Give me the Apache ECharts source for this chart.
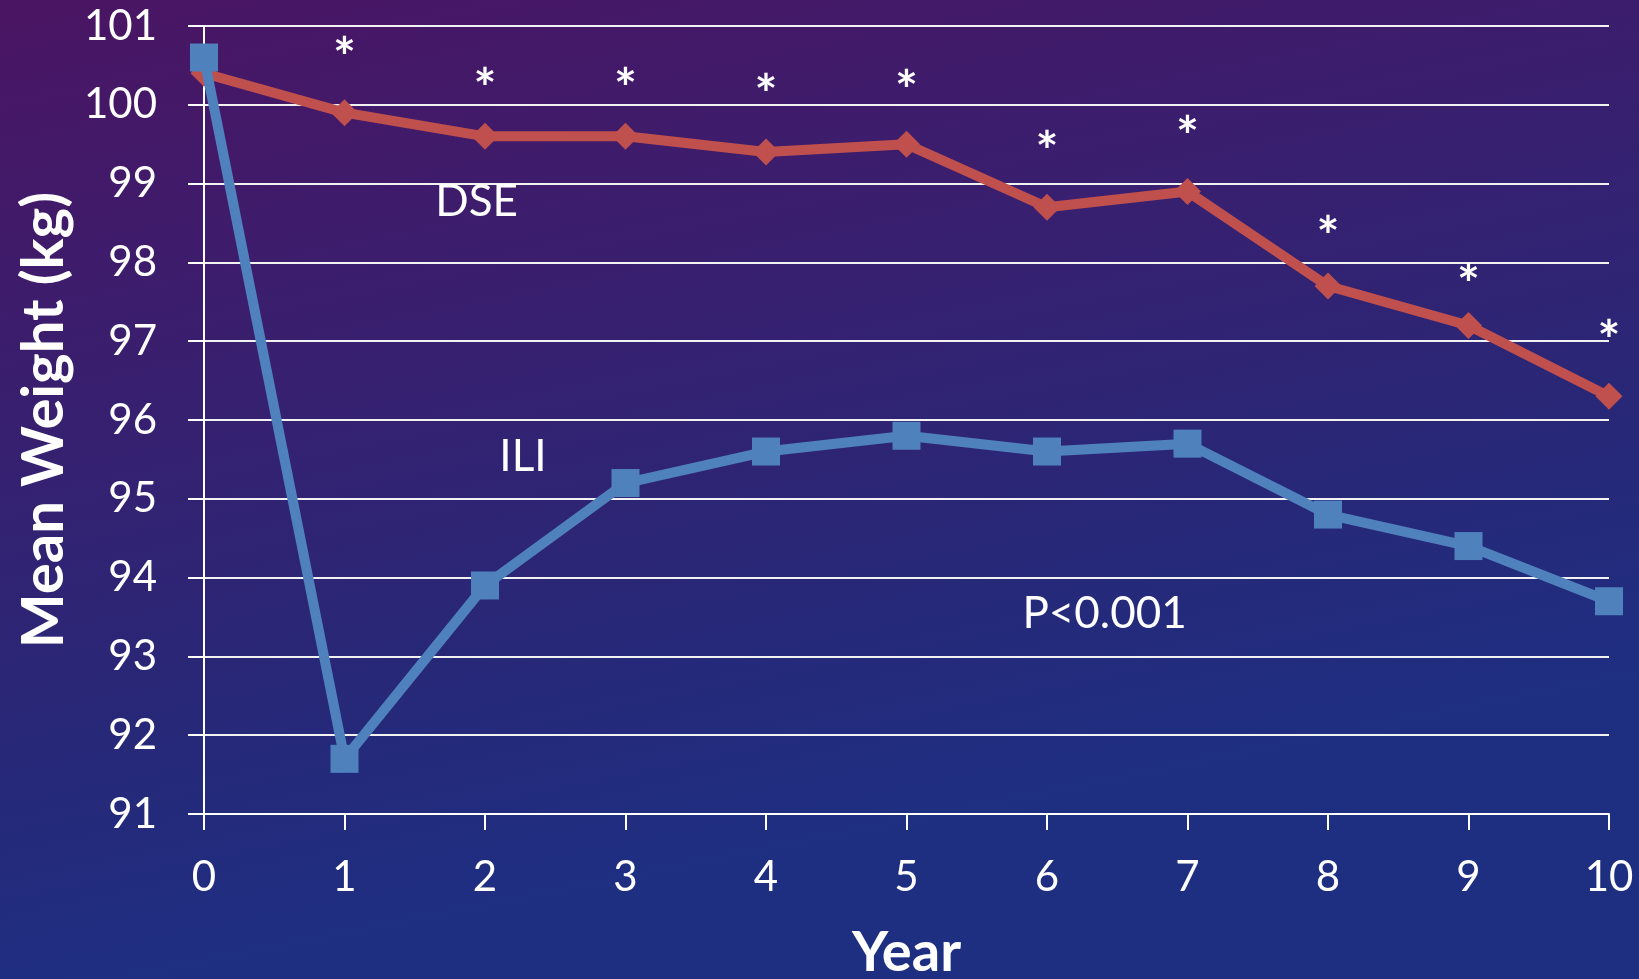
<!DOCTYPE html>
<html>
<head>
<meta charset="utf-8">
<script src="https://cdn.jsdelivr.net/npm/echarts@6/dist/echarts.min.js"></script>
<style>
html,body{margin:0;padding:0;width:1639px;height:979px;overflow:hidden;}
#chart{width:1639px;height:979px;}
</style>
</head>
<body>
<div id="chart"></div>
<script>
// ---- data ----
const years = [0, 1, 2, 3, 4, 5, 6, 7, 8, 9, 10];
const dseWeight = [100.4, 99.9, 99.6, 99.6, 99.4, 99.5, 98.7, 98.9, 97.7, 97.2, 96.3];
const iliWeight = [100.6, 91.7, 93.9, 95.2, 95.6, 95.8, 95.6, 95.7, 94.8, 94.4, 93.7];
const starYears = [1, 2, 3, 4, 5, 6, 7, 8, 9, 10];
const starLevel = [100.74, 100.34, 100.34, 100.27, 100.32, 99.55, 99.74, 98.47, 97.86, 97.15];
const noteText = ['DSE', 'ILI', 'P<0.001'];
const noteX = [1.94, 2.27, 6.41];
const noteY = [98.77, 95.53, 93.54];
const yTicks = [91, 92, 93, 94, 95, 96, 97, 98, 99, 100, 101];

const FONT = 'Lato, "Open Sans", sans-serif';

const chart = echarts.init(document.getElementById('chart'));
chart.setOption({
  backgroundColor: {
    type: 'linear', x: 0, y: 0, x2: 0.12, y2: 1,
    colorStops: [
      {offset: 0, color: '#4a1563'},
      {offset: 0.4, color: '#391f6f'},
      {offset: 0.75, color: '#272878'},
      {offset: 1, color: '#1e2f82'}
    ]
  },
  animation: false,
  grid: {left: 204, right: 30, top: 26, bottom: 165, containLabel: false, outerBoundsMode: 'none'},
  xAxis: {
    type: 'value', min: 0, max: 10, interval: 1,
    name: 'Year', nameLocation: 'middle', nameGap: 111,
    nameTextStyle: {color: '#ffffff', fontSize: 56, fontWeight: 'bold', fontFamily: FONT},
    axisLine: {show: true, onZero: false, lineStyle: {color: '#ffffff', width: 2}},
    axisTick: {show: true, inside: false, length: 16, lineStyle: {color: '#ffffff', width: 2}},
    axisLabel: {color: '#ffffff', fontSize: 42, fontFamily: FONT, margin: 42},
    splitLine: {show: false}
  },
  yAxis: {
    type: 'value', min: 91, max: 101, interval: 1,
    name: 'Mean Weight (kg)', nameLocation: 'middle', nameGap: 130, nameRotate: 90,
    nameTextStyle: {color: '#ffffff', fontSize: 58, fontWeight: 'bold', fontFamily: FONT},
    axisLine: {show: true, lineStyle: {color: '#ffffff', width: 2}},
    axisTick: {show: true, inside: false, length: 16, lineStyle: {color: '#ffffff', width: 2}},
    axisLabel: {color: '#ffffff', fontSize: 42, fontFamily: FONT, margin: 47,
      formatter: v => yTicks.includes(v) ? String(v) : ''},
    splitLine: {show: true, lineStyle: {color: '#f2f2f2', width: 2}}
  },
  series: [
    {
      name: 'DSE', type: 'line',
      data: years.map((x, i) => [x, dseWeight[i]]),
      lineStyle: {color: '#c0504d', width: 10},
      itemStyle: {color: '#c0504d'},
      symbol: 'diamond', symbolSize: 27, z: 3
    },
    {
      name: 'ILI', type: 'line',
      data: years.map((x, i) => [x, iliWeight[i]]),
      lineStyle: {color: '#4f81bd', width: 10},
      itemStyle: {color: '#4f81bd'},
      symbol: 'rect', symbolSize: 28, z: 4
    },
    {
      name: 'stars', type: 'scatter',
      data: starYears.map((x, i) => [x, starLevel[i]]),
      symbolSize: 0, silent: true,
      itemStyle: {opacity: 1},
      label: {show: true, position: 'inside', formatter: '*', color: '#ffffff', opacity: 1,
        fontSize: 54, fontWeight: 'bold', fontFamily: FONT, offset: [0, 12]}
    },
    {
      name: 'notes', type: 'scatter',
      data: noteText.map((t, i) => ({name: t, value: [noteX[i], noteY[i]]})),
      symbolSize: 0, silent: true,
      itemStyle: {opacity: 1},
      label: {show: true, position: 'inside', formatter: p => p.name, color: '#ffffff', opacity: 1,
        fontSize: 44, fontFamily: FONT}
    }
  ]
});
</script>
</body>
</html>
